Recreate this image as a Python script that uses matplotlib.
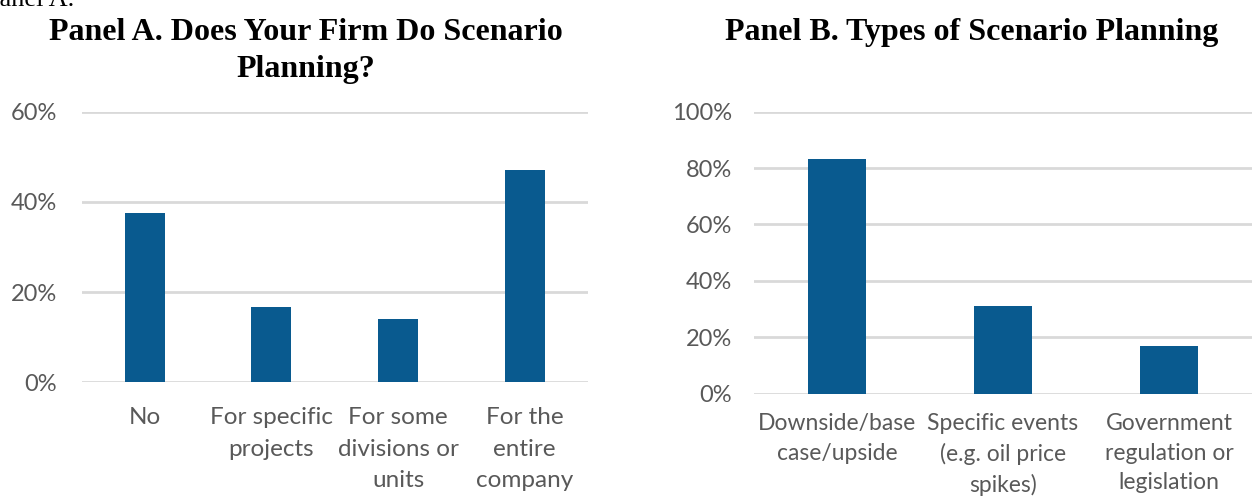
import matplotlib.pyplot as plt
import numpy as np

# Panel A data
cats_a = ['No', 'For specific\nprojects', 'For some\ndivisions or\nunits', 'For the\nentire\ncompany']
vals_a = [37.6, 16.7, 14.0, 47.0]
ticks_a = [0, 20, 40, 60]

# Panel B data
cats_b = ['Downside/base\ncase/upside', 'Specific events\n(e.g. oil price\nspikes)', 'Government\nregulation or\nlegislation']
vals_b = [83.1, 31.0, 16.8]
ticks_b = [0, 20, 40, 60, 80, 100]

bar_color = '#095a8f'
grid_color = '#d9d9d9'
text_gray = '#595959'
sans = ['Lato', 'DejaVu Sans']
serif = ['Liberation Serif', 'DejaVu Serif']

W, H = 1252, 496
fig = plt.figure(figsize=(W / 100, H / 100), dpi=100)


def style(ax, cats, vals, ticks, width, ypad, xpad, xsize, lsp):
    x = np.arange(len(cats))
    ax.bar(x, vals, width=width, color=bar_color, zorder=3)
    ax.set_xlim(-0.5, len(cats) - 0.5)
    ax.set_ylim(ticks[0], ticks[-1])
    ax.set_yticks(ticks)
    ax.set_yticklabels([f'{t}%' for t in ticks], family=sans, fontsize=17, color=text_gray)
    ax.set_xticks(x)
    ax.set_xticklabels(cats, family=sans, fontsize=xsize, color=text_gray, linespacing=lsp, va='top')
    ax.tick_params(axis='y', length=0, pad=ypad)
    ax.tick_params(axis='x', length=0, pad=xpad)
    for s in ax.spines.values():
        s.set_visible(False)
    for t in ticks:
        ax.axhline(t, color=grid_color, lw=2, zorder=1)


ax_a = fig.add_axes([81.5 / W, 1 - 382.3 / H, (588 - 81.5) / W, 270.6 / H])
style(ax_a, cats_a, vals_a, ticks_a, 0.316, 17.5, 18, 17.5, 1.62)

ax_b = fig.add_axes([754 / W, 1 - 393.7 / H, 498 / W, 282 / H])
style(ax_b, cats_b, vals_b, ticks_b, 0.355, 16.0, 14, 16.5, 1.5)

fig.text(306 / W, 1 - 40 / H, 'Panel A. Does Your Firm Do Scenario',
         family=serif, fontweight='bold', fontsize=23, ha='center', va='baseline')
fig.text(306 / W, 1 - 77 / H, 'Planning?',
         family=serif, fontweight='bold', fontsize=23, ha='center', va='baseline')
fig.text(972 / W, 1 - 40 / H, 'Panel B. Types of Scenario Planning',
         family=serif, fontweight='bold', fontsize=23, ha='center', va='baseline')
fig.text(-15 / W, 1 - 6 / H, 'Panel A.', family=serif, fontsize=19, ha='left', va='baseline')

fig.savefig('out.png', dpi=100)
